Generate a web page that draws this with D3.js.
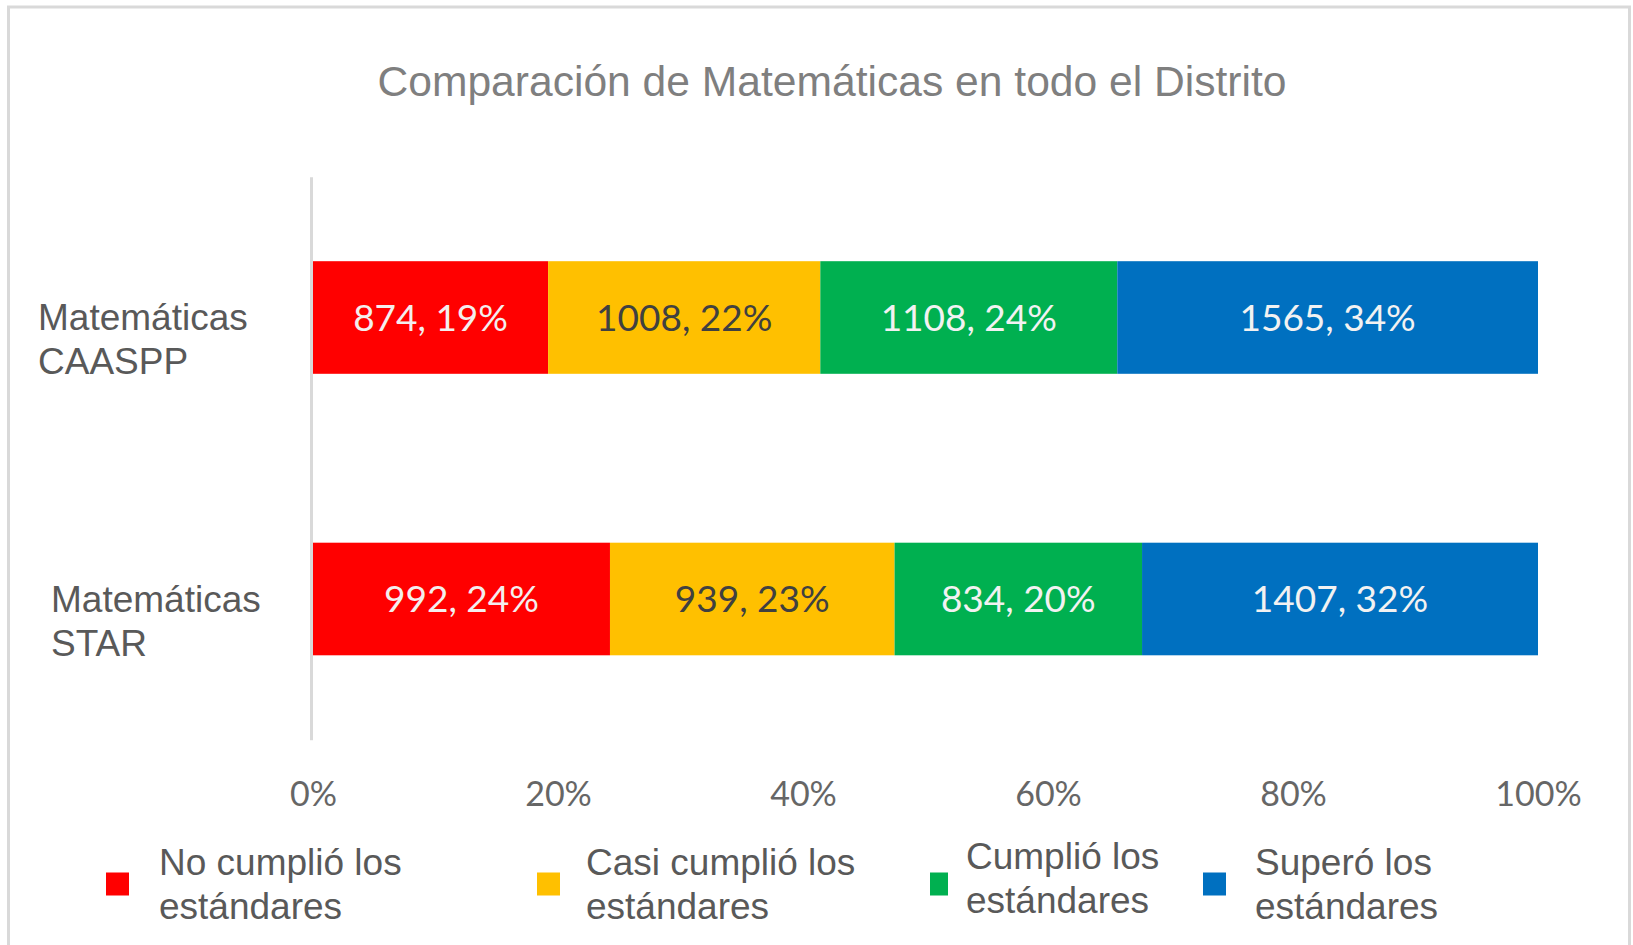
<!DOCTYPE html>
<html>
<head>
<meta charset="utf-8">
<script src="https://cdn.jsdelivr.net/npm/d3@7"></script>
<style>
  html, body { margin: 0; padding: 0; background: #fff; }
  svg { display: block; }
</style>
</head>
<body>
<div id="chart"></div>
<script>
// Data
const categories = ["Matemáticas CAASPP", "Matemáticas STAR"];
const seriesNames = [
  "No cumplió los estándares",
  "Casi cumplió los estándares",
  "Cumplió los estándares",
  "Superó los estándares"
];
// student counts per level, one array per category
const caasppCounts = [874, 1008, 1108, 1565];
const starCounts = [992, 939, 834, 1407];
// percentages shown in the labels (bars are stacked on these, 100% stacked)
const caasppPct = [19, 22, 24, 34];
const starPct = [24, 23, 20, 32];
const tickValues = [0, 0.2, 0.4, 0.6, 0.8, 1];

const colors = ["#ff0000", "#ffc000", "#00b050", "#0070c0"];
const labelColors = ["#f4eeee", "#404040", "#f2f2f2", "#f2f2f2"];

const width = 1633;
const height = 945;

// table for d3.stack
const table = categories.map((c, i) => {
  const pct = i === 0 ? caasppPct : starPct;
  const cnt = i === 0 ? caasppCounts : starCounts;
  const row = { category: c };
  seriesNames.forEach((s, j) => {
    row[s] = pct[j];
    row[s + "_n"] = cnt[j];
  });
  return row;
});

const stack = d3.stack().keys(seriesNames).offset(d3.stackOffsetExpand);
const series = stack(table);

const x = d3.scaleLinear().domain([0, 1]).range([313, 1538]);
const y = d3
  .scaleBand()
  .domain(categories)
  .range([176.75, 739.75])
  .paddingInner(0.6)
  .paddingOuter(0.3);

const svg = d3.select("#chart").append("svg").attr("width", width).attr("height", height);

// chart frame
svg
  .append("rect")
  .attr("x", 8.5)
  .attr("y", 7)
  .attr("width", 1621)
  .attr("height", 940)
  .attr("fill", "#fff")
  .attr("stroke", "#d9d9d9")
  .attr("stroke-width", 3);

// title
svg
  .append("text")
  .attr("x", 832)
  .attr("y", 81)
  .attr("dy", "0.35em")
  .attr("text-anchor", "middle")
  .attr("font-family", "Liberation Sans, Arial, sans-serif")
  .attr("font-size", 42.6)
  .attr("fill", "#7f7f7f")
  .text("Comparación de Matemáticas en todo el Distrito");

// vertical category axis (line only)
const yAxis = svg
  .append("g")
  .attr("transform", `translate(${x(0) - 2},0)`)
  .call(d3.axisLeft(y).tickSize(0).tickFormat(""));
yAxis.select(".domain").attr("stroke", "#d9d9d9").attr("stroke-width", 3);

// stacked bars
const groups = svg
  .append("g")
  .selectAll("g")
  .data(series)
  .join("g")
  .attr("fill", (d, i) => colors[i]);

groups
  .selectAll("rect")
  .data((d) => d.map((v) => Object.assign(v, { key: d.key, idx: d.index })))
  .join("rect")
  .attr("x", (d) => x(d[0]))
  .attr("y", (d) => y(d.data.category))
  .attr("width", (d) => x(d[1]) - x(d[0]))
  .attr("height", y.bandwidth());

// value labels inside segments
groups
  .selectAll("text")
  .data((d) => d)
  .join("text")
  .attr("x", (d) => (x(d[0]) + x(d[1])) / 2)
  .attr("y", (d) => y(d.data.category) + y.bandwidth() / 2)
  .attr("dy", "0.36em")
  .attr("text-anchor", "middle")
  .attr("font-family", "Lato, 'Open Sans', sans-serif")
  .attr("font-size", 37)
  .attr("fill", (d) => labelColors[d.idx])
  .text((d) => `${d.data[d.key + "_n"]}, ${d.data[d.key]}%`);

// category labels (two lines each)
const labelX = [38, 51];
categories.forEach((c, i) => {
  const words = c.split(" ");
  const t = svg
    .append("text")
    .attr("font-family", "Liberation Sans, Arial, sans-serif")
    .attr("font-size", 37)
    .attr("fill", "#595959");
  words.forEach((w, k) => {
    t.append("tspan")
      .attr("x", labelX[i])
      .attr("y", y(c) + y.bandwidth() / 2 + k * 44)
      .attr("dy", "0.35em")
      .text(w);
  });
});

// percent axis at bottom
const xAxis = svg
  .append("g")
  .attr("transform", "translate(0,794)")
  .call(d3.axisBottom(x).tickValues(tickValues).tickFormat(d3.format(".0%")).tickSize(0));
xAxis.select(".domain").remove();
xAxis
  .selectAll("text")
  .attr("y", 0)
  .attr("dy", "0.35em")
  .attr("font-family", "Lato, 'Open Sans', sans-serif")
  .attr("font-size", 34)
  .attr("fill", "#666");

// legend (layout per item: square x, square width, text x offset, text y shift)
const legendX = [106, 537, 930, 1203];
const legendSwatchW = [23, 23, 18, 23];
const legendTextDx = [53, 49, 36, 52];
const legendTextDy = [0, 0, -6, 0];
const legend = svg
  .append("g")
  .selectAll("g")
  .data(seriesNames)
  .join("g")
  .attr("transform", (d, i) => `translate(${legendX[i]},884)`);

legend
  .append("rect")
  .attr("x", 0)
  .attr("y", -11.5)
  .attr("width", (d, i) => legendSwatchW[i])
  .attr("height", 23)
  .attr("fill", (d, i) => colors[i]);

legend.each(function (d, i) {
  const words = d.split(" ");
  const first = words.slice(0, -1).join(" ");
  const second = words[words.length - 1];
  const t = d3
    .select(this)
    .append("text")
    .attr("font-family", "Liberation Sans, Arial, sans-serif")
    .attr("font-size", 37)
    .attr("fill", "#595959");
  [first, second].forEach((line, k) => {
    t.append("tspan")
      .attr("x", legendTextDx[i])
      .attr("y", -22 + legendTextDy[i] + k * 44)
      .attr("dy", "0.35em")
      .text(line);
  });
});
</script>
</body>
</html>
